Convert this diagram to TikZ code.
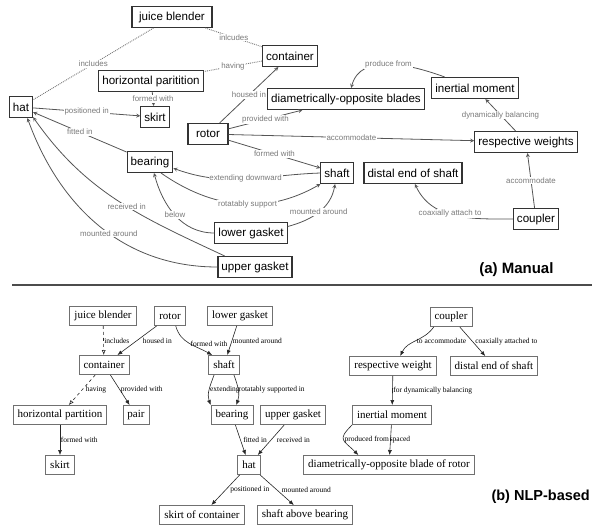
\documentclass[tikz,border=0pt]{standalone}
\usepackage{fontspec, tikz}
\usetikzlibrary{arrows.meta}
\newfontfamily\manualfont{Liberation Sans}
\newfontfamily\nlpfont{Liberation Serif}
\definecolor{mline}{HTML}{555555}
\definecolor{mtext}{HTML}{7A7A7A}
\definecolor{mframe}{HTML}{333333}
\definecolor{nframe}{HTML}{707070}
\tikzset{>=stealth}
\tikzset{
	mbox/.style = {draw = mframe, line width = 1.1pt, font = \manualfont\fontsize{11.6}{13}\selectfont, inner xsep = 3.5pt, inner ysep = 0pt, minimum height = 21pt},
	mlbl/.style = {fill = white, inner sep = 0.8pt, font = \manualfont\fontsize{7.9}{9}\selectfont, text = mtext},
	medge/.style = {draw = mline, line width = 0.8pt, ->},
	mdot/.style = {draw = mline!80, line width = 0.9pt, densely dotted},
	nbox/.style = {draw = nframe, line width = 0.9pt, font = \nlpfont\fontsize{11}{13}\selectfont, inner xsep = 4.5pt, inner ysep = 0pt, minimum height = 19pt},
	nlbl/.style = {anchor = west, inner sep = 0.5pt, font = \nlpfont\fontsize{7.5}{9}\selectfont},
	nedge/.style = {draw = black!85, line width = 0.6pt, -{Latex[length = 5pt, width = 4pt]}},
	nsub/.style = {draw = black!85, line width = 0.6pt, dashed, -{Latex[open, length = 5pt, width = 4pt]}}
}

\begin{document}
\begin{tikzpicture}[x = 1pt, y = -1pt]
	\useasboundingbox (0,0) rectangle (592,525);
	\node (blender) at (172,17) [mbox, minimum width = 80pt] {juice blender};
	\node (container) at (290,56) [mbox] {container};
	\node (partition) at (151,81) [mbox] {horizontal paritition};
	\node (hat) at (21,107) [mbox] {hat};
	\node (skirt) at (155,117) [mbox] {skirt};
	\node (rotor) at (208,134) [mbox, minimum width = 40pt] {rotor};
	\node (blades) at (346,99) [mbox] {diametrically-opposite blades};
	\node (moment) at (475,88) [mbox] {inertial moment};
	\node (weights) at (526,142) [mbox] {respective weights};
	\node (shaft) at (337,173) [mbox] {shaft};
	\node (distal) at (413,173) [mbox] {distal end of shaft};
	\node (coupler) at (536,219) [mbox] {coupler};
	\node (bearing) at (150,162) [mbox] {bearing};
	\node (lowgasket) at (251,233) [mbox] {lower gasket};
	\node (upgasket) at (255,267) [mbox] {upper gasket};
	\draw[mdot] (blender) -- node[mlbl] {includes} (hat);
	\draw[mdot] (blender) -- node[mlbl] {inlcudes} (container);
	\draw[mdot] (container) -- node[mlbl] {having} (partition);
	\foreach \a/\b/\t in {partition/skirt/formed with, hat/skirt/positioned in, rotor/container/housed in, rotor/blades/provided with, rotor/weights/accommodate, rotor/shaft/formed with, bearing/hat/fitted in, weights/moment/dynamically balancing, coupler/weights/accommodate}
	\draw[medge] (\a) -- node[mlbl] {\t} (\b);
	\draw[medge] (shaft.west) to[out = -178, in = -20] node[mlbl] {extending downward} (bearing.-15);
	\draw[medge] (bearing.-45) to[out = -35, in = -150] node[mlbl, pos = 0.55] {rotatably support} (shaft.south west);
	\draw[medge] (lowgasket.west) to[out = 180, in = -75] node[mlbl] {below} (bearing.-70);
	\draw[medge] (lowgasket.10) to[out = 15, in = -100] node[mlbl] {mounted around} (shaft.-100);
	\draw[medge] (upgasket.160) to[out = 155, in = -55] node[mlbl, pos = 0.45] {received in} (hat.-40);
	\draw[medge] (upgasket.west) to[out = 180, in = -70] node[mlbl, pos = 0.45] {mounted around} (hat.-60);
	\draw[medge] (moment.160) to[out = 160, in = 75] node[mlbl] {produce from} (blades.65);
	\draw[medge] (coupler.west) to[out = 180, in = -65] node[mlbl, pos = 0.55] {coaxially attach to} (distal.-80);
	\node (mancap) at (557,270) [anchor = east, font = \manualfont\bfseries\fontsize{15}{18}\selectfont] {(a) Manual};
	\draw[line width = 1.5pt, black!70] (12,285) -- (592,285);
	\node (nblender) at (103,316) [nbox] {juice blender};
	\node (nrotor) at (170,316) [nbox] {rotor};
	\node (nlowgasket) at (240,316) [nbox] {lower gasket};
	\node (ncoupler) at (451,317) [nbox] {coupler};
	\node (ncontainer) at (104,365) [nbox] {container};
	\node (nshaft) at (224,365) [nbox] {shaft};
	\node (nweight) at (393,366) [nbox] {respective weight};
	\node (ndistal) at (494,366) [nbox] {distal end of shaft};
	\node (npartition) at (60,415) [nbox] {horizontal partition};
	\node (npair) at (136,415) [nbox] {pair};
	\node (nbearing) at (232,415) [nbox] {bearing};
	\node (nupgasket) at (293,415) [nbox] {upper gasket};
	\node (nmoment) at (392,415) [nbox] {inertial moment};
	\node (nskirt) at (60,465) [nbox] {skirt};
	\node (nhat) at (249,465) [nbox] {hat};
	\node (nblade) at (389,465) [nbox] {diametrically-opposite blade of rotor};
	\node (nskirtcont) at (202,515) [nbox] {skirt of container};
	\node (nshaftabove) at (305,515) [nbox] {shaft above bearing};
	\draw[nsub] (nblender) -- node[nlbl] {includes} (ncontainer);
	\draw[nsub] (ncontainer) -- node[nlbl, xshift = 3pt] {having} (npartition);
	\foreach \a/\b/\t/\s in {nrotor/ncontainer/housed in/5, nlowgasket/nshaft/mounted around/0, ncontainer/npair/provided with/0, npartition/nskirt/formed with/0, nbearing/nhat/fitted in/2, nupgasket/nhat/received in/5, nhat/nskirtcont/positioned in/4, nhat/nshaftabove/mounted around/4, ncoupler/ndistal/coaxially attached to/2, nweight/nmoment/for dynamically balancing/0, nmoment/nblade/spaced/-1.5}
	\draw[nedge] (\a) -- node[nlbl, xshift = \s pt] {\t} (\b);
	\draw[nedge] (nrotor.-60) to[out = -75, in = 150] node[nlbl] {formed with} (nshaft.140);
	\draw[nedge] (nshaft.-135) to[out = -110, in = 110] node[nlbl] {extending} (nbearing.155);
	\draw[nedge] (nshaft.-45) to[out = -70, in = 70] node[nlbl] {rotatably supported in} (nbearing.67);
	\draw[nedge] (ncoupler.-150) to[out = -125, in = 65] node[nlbl] {to accommodate} (nweight.54);
	\draw[nedge] (nmoment.-166) to[out = -135, in = 135, looseness = 1.8] node[nlbl] {produced from} (nblade.162);
	\node (nlpcap) at (488,497) [anchor = west, font = \manualfont\bfseries\fontsize{14.5}{18}\selectfont] {(b) NLP-based};
\end{tikzpicture}
\end{document}
